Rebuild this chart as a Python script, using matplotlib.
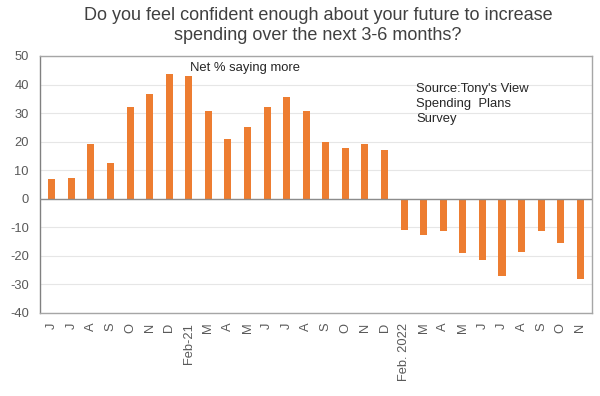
import matplotlib
matplotlib.use("Agg")
import matplotlib.pyplot as plt
import numpy as np

plt.rcParams['font.family'] = ['Liberation Sans', 'DejaVu Sans']

categories = ["J", "J", "A", "S", "O", "N", "D", "Feb-21", "M", "A", "M", "J", "J", "A",
              "S", "O", "N", "D", "Feb. 2022", "M", "A", "M", "J", "J", "A", "S", "O", "N"]
values = [6.9, 7.3, 19.1, 12.5, 32.2, 36.7, 43.8, 43.0, 30.8, 21.1, 25.1, 32.2, 35.8, 30.8,
          19.8, 17.7, 19.3, 17.2, -11.0, -12.8, -11.4, -19.0, -21.3, -27.0, -18.5, -11.2, -15.4, -28.1]
yticks = [-40, -30, -20, -10, 0, 10, 20, 30, 40, 50]

title = "Do you feel confident enough about your future to increase\nspending over the next 3-6 months?"
note = "Net % saying more"
source = "Source:Tony's View\nSpending  Plans\nSurvey"

fig = plt.figure(figsize=(6, 3.96), dpi=100)
ax = fig.add_axes([0.0667, 0.2096, 0.92, 0.649])

x = np.arange(len(categories))
ax.bar(x, values, width=0.36, color="#ED7D31", zorder=3)

ax.set_xlim(-0.6, len(categories) - 0.4)
ax.set_ylim(-40, 50)
ax.set_yticks(yticks)
ax.set_yticklabels([str(v) for v in yticks], fontsize=9.3, color="#595959")
ax.set_xticks(x)
ax.set_xticklabels(categories, rotation=90, fontsize=9.3, color="#595959")
ax.tick_params(axis='y', length=0, pad=8)
ax.tick_params(axis='x', length=0, pad=7)
ax.grid(axis='y', color="#E6E6E6", linewidth=0.8, zorder=0)
ax.axhline(0, color="#8C8C8C", linewidth=1.0, zorder=4)
for side in ['top', 'right', 'bottom']:
    ax.spines[side].set_color("#A6A6A6")
    ax.spines[side].set_linewidth(1.0)
ax.spines['left'].set_color("#808080")
ax.spines['left'].set_linewidth(1.0)

fig.text(0.53, 0.982, title, ha='center', va='top', fontsize=13, color="#404040",
         linespacing=1.22)
ax.text(0.272, 0.975, note, transform=ax.transAxes, fontsize=9.4, color="#262626",
        ha='left', va='top')
ax.text(0.682, 0.893, source, transform=ax.transAxes, fontsize=9.4, color="#262626",
        ha='left', va='top', linespacing=1.3)

fig.savefig("out.png", dpi=100)
